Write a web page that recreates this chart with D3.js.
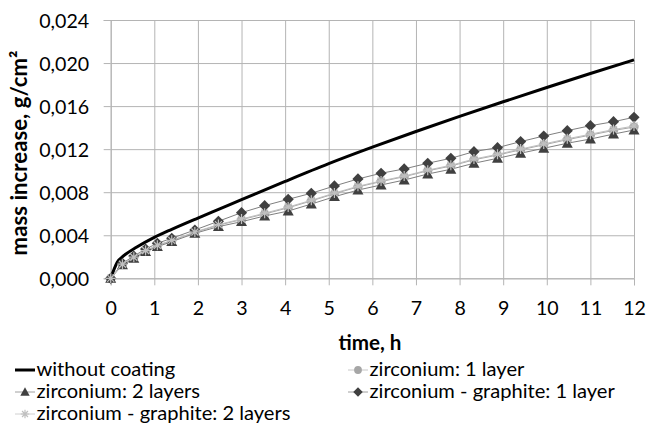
<!DOCTYPE html>
<html><head><meta charset="utf-8">
<script src="https://cdn.jsdelivr.net/npm/d3@7"></script>
<style>body{margin:0;background:#fff} svg{display:block;font-family:Lato,sans-serif}</style>
</head><body><svg id="c" width="648" height="428"></svg>
<script>
// ---- data ----
const baseTime = [0, 0.15, 0.3, 0.6, 1, 1.4, 2, 2.5, 3, 4, 5, 6, 7, 8, 9, 10, 11, 12];
const baseMass = [0, 0.0015, 0.0021, 0.0029, 0.0038, 0.00455, 0.0056, 0.00645, 0.0073, 0.009, 0.01065, 0.01218, 0.01364, 0.01504, 0.0164, 0.01773, 0.01903, 0.02029];
const markerTime = [0, 0.27, 0.53, 0.8, 1.07, 1.4, 1.93, 2.47, 3.0, 3.53, 4.07, 4.6, 5.13, 5.67, 6.2, 6.73, 7.27, 7.8, 8.33, 8.87, 9.4, 9.93, 10.47, 11.0, 11.53, 12.0];
const zr1Layer = [0, 0.0013, 0.00193, 0.00255, 0.00303, 0.0035, 0.00427, 0.00494, 0.00545, 0.00598, 0.00655, 0.00719, 0.00786, 0.00849, 0.00899, 0.00944, 0.00999, 0.01043, 0.01101, 0.01145, 0.01194, 0.0124, 0.01288, 0.01331, 0.01374, 0.01405];
const zr2Layers = [0, 0.00124, 0.00186, 0.00247, 0.00294, 0.0034, 0.00418, 0.0048, 0.00526, 0.00579, 0.00625, 0.0069, 0.00758, 0.0082, 0.00867, 0.00913, 0.00969, 0.01013, 0.01069, 0.01115, 0.01162, 0.01208, 0.01255, 0.01294, 0.0134, 0.01378];
const zrGr1Layer = [0, 0.00139, 0.00207, 0.00272, 0.00325, 0.00372, 0.00449, 0.0053, 0.0061, 0.00675, 0.00734, 0.0079, 0.00858, 0.00923, 0.00976, 0.01016, 0.01069, 0.01115, 0.01177, 0.01214, 0.0127, 0.01322, 0.01372, 0.01418, 0.01455, 0.01496];
const zrGr2Layers = [0, 0.00131, 0.00196, 0.00258, 0.00307, 0.00353, 0.0043, 0.00499, 0.00551, 0.00605, 0.00662, 0.00725, 0.00792, 0.00855, 0.00905, 0.0095, 0.01005, 0.0105, 0.01108, 0.01152, 0.01201, 0.01248, 0.01296, 0.01339, 0.01382, 0.01415];
const xTickValues = [0, 1, 2, 3, 4, 5, 6, 7, 8, 9, 10, 11, 12];
const yTickValues = [0, 0.004, 0.008, 0.012, 0.016, 0.020, 0.024];
const seriesNames = ["without coating", "zirconium: 1 layer", "zirconium: 2 layers", "zirconium - graphite: 1 layer", "zirconium - graphite: 2 layers"];

// ---- layout ----
const svg = d3.select("#c");
const L = 110.7, R = 634, T = 20, B = 278.3;
const x = d3.scaleLinear().domain([0, 12]).range([L, R]);
const y = d3.scaleLinear().domain([0, 0.024]).range([B, T]);
const gridColor = "#b4b4b4";
const fmt = v => d3.format(".3f")(v).replace(".", ",");

// size a text so that its rendered width matches a target width
function fitSize(str, weight, target) {
  const t = svg.append("text").attr("font-size", 20).attr("font-weight", weight).text(str);
  const w = t.node().getComputedTextLength();
  t.remove();
  return 20 * target / w;
}
const tickSize = fitSize("0,024", "normal", 50);
const legendSize = fitSize(seriesNames[4], "normal", 254);
const xTitleSize = fitSize("time, h", "bold", 63);
const yTitleSize = fitSize("mass increase, g/cm²", "bold", 205);

// gridlines
svg.append("g").attr("transform", `translate(${L},0)`)
  .call(d3.axisLeft(y).tickValues(yTickValues).tickSize(-(R - L)).tickFormat(""))
  .call(g => { g.select(".domain").remove(); g.selectAll("line").attr("stroke", gridColor); });
svg.append("g").attr("transform", `translate(0,${B})`)
  .call(d3.axisBottom(x).tickValues(xTickValues).tickSize(-(B - T)).tickFormat(""))
  .call(g => { g.select(".domain").remove(); g.selectAll("line").attr("stroke", gridColor); });

// axes with outside ticks and labels
svg.append("g").attr("transform", `translate(${L},0)`)
  .call(d3.axisLeft(y).tickValues(yTickValues).tickSize(7).tickPadding(14.5).tickFormat(fmt))
  .call(g => {
    g.select(".domain").attr("stroke", gridColor);
    g.selectAll("line").attr("stroke", gridColor);
    g.selectAll("text").attr("font-family", "Lato").attr("font-size", tickSize).attr("fill", "#000").attr("dy", "0.36em");
  });
svg.append("g").attr("transform", `translate(0,${B})`)
  .call(d3.axisBottom(x).tickValues(xTickValues).tickSize(7).tickFormat(d3.format("d")))
  .call(g => {
    g.select(".domain").attr("stroke", gridColor);
    g.selectAll("line").attr("stroke", gridColor);
    g.selectAll("text").attr("font-family", "Lato").attr("font-size", tickSize).attr("fill", "#000").attr("y", 36.5).attr("dy", 0);
  });

// axis titles
svg.append("text").attr("x", 370).attr("y", 350).attr("text-anchor", "middle")
  .attr("font-weight", "bold").attr("font-size", xTitleSize).text("time, h");
svg.append("text").attr("transform", "translate(27,153) rotate(-90)").attr("text-anchor", "middle")
  .attr("font-weight", "bold").attr("font-size", yTitleSize)
  .text("mass increase, g/cm²");

// ---- series ----
const line = d3.line().x(d => x(d[0])).y(d => y(d[1]));
const smooth = d3.line().curve(d3.curveMonotoneX).x(d => x(d[0])).y(d => y(d[1]));

const markerSeries = [
  { name: seriesNames[1], vals: zr1Layer, color: "#a6a6a6", lineColor: "#a6a6a6", shape: "circle" },
  { name: seriesNames[2], vals: zr2Layers, color: "#404040", lineColor: "#7f7f7f", shape: "triangle" },
  { name: seriesNames[3], vals: zrGr1Layer, color: "#404040", lineColor: "#7f7f7f", shape: "diamond" },
  { name: seriesNames[4], vals: zrGr2Layers, color: "#c0c0c0", lineColor: "#bfbfbf", shape: "star" }
];

function drawMarker(g, shape, color, cx, cy, s) {
  if (shape === "circle") {
    g.append("circle").attr("cx", cx).attr("cy", cy).attr("r", 4.6 * s).attr("fill", color);
  } else if (shape === "triangle") {
    const h = 5.5 * s;
    g.append("path").attr("d", `M${cx},${cy - h}L${cx + h},${cy + h * 0.8}L${cx - h},${cy + h * 0.8}Z`).attr("fill", color);
  } else if (shape === "diamond") {
    const h = 5.6 * s;
    g.append("path").attr("d", `M${cx},${cy - h}L${cx + h},${cy}L${cx},${cy + h}L${cx - h},${cy}Z`).attr("fill", color);
  } else {
    const h = 5 * s;
    const p = [[0, -h, 0, h], [-h, 0, h, 0], [-h * 0.7, -h * 0.7, h * 0.7, h * 0.7], [-h * 0.7, h * 0.7, h * 0.7, -h * 0.7]]
      .map(a => `M${cx + a[0]},${cy + a[1]}L${cx + a[2]},${cy + a[3]}`).join("");
    g.append("path").attr("d", p).attr("stroke", color).attr("stroke-width", 1.2).attr("fill", "none");
  }
}

// base line
svg.append("path").datum(baseTime.map((t, i) => [t, baseMass[i]]))
  .attr("d", smooth).attr("fill", "none").attr("stroke", "#000").attr("stroke-width", 3);

markerSeries.forEach(s => {
  const pts = markerTime.map((t, i) => [t, s.vals[i]]);
  const g = svg.append("g");
  g.append("path").datum(pts).attr("d", line).attr("fill", "none").attr("stroke", s.lineColor).attr("stroke-width", 1);
  pts.forEach(p => drawMarker(g, s.shape, s.color, x(p[0]), y(p[1]), 1));
});

// ---- legend ----
const legendItems = [
  { name: seriesNames[0], x: 15, y: 376, shape: "line", color: "#000" },
  { name: seriesNames[1], x: 348, y: 376, shape: "circle", color: "#a6a6a6", lineColor: "#c8c8c8" },
  { name: seriesNames[2], x: 15, y: 398, shape: "triangle", color: "#404040", lineColor: "#a0a0a0" },
  { name: seriesNames[3], x: 348, y: 398, shape: "diamond", color: "#404040", lineColor: "#a0a0a0" },
  { name: seriesNames[4], x: 15, y: 420, shape: "star", color: "#c0c0c0", lineColor: "#d0d0d0" }
];
legendItems.forEach(it => {
  const g = svg.append("g");
  const cy = it.y - 6;
  if (it.shape === "line") {
    g.append("line").attr("x1", it.x).attr("x2", it.x + 20).attr("y1", cy).attr("y2", cy).attr("stroke", "#000").attr("stroke-width", 3);
  } else {
    g.append("line").attr("x1", it.x).attr("x2", it.x + 20).attr("y1", cy).attr("y2", cy).attr("stroke", it.lineColor).attr("stroke-width", 1);
    drawMarker(g, it.shape, it.color, it.x + 10, cy, 0.85);
  }
  g.append("text").attr("x", it.x + 21.5).attr("y", it.y).attr("font-size", legendSize).attr("fill", "#000").text(it.name);
});
</script></body></html>
